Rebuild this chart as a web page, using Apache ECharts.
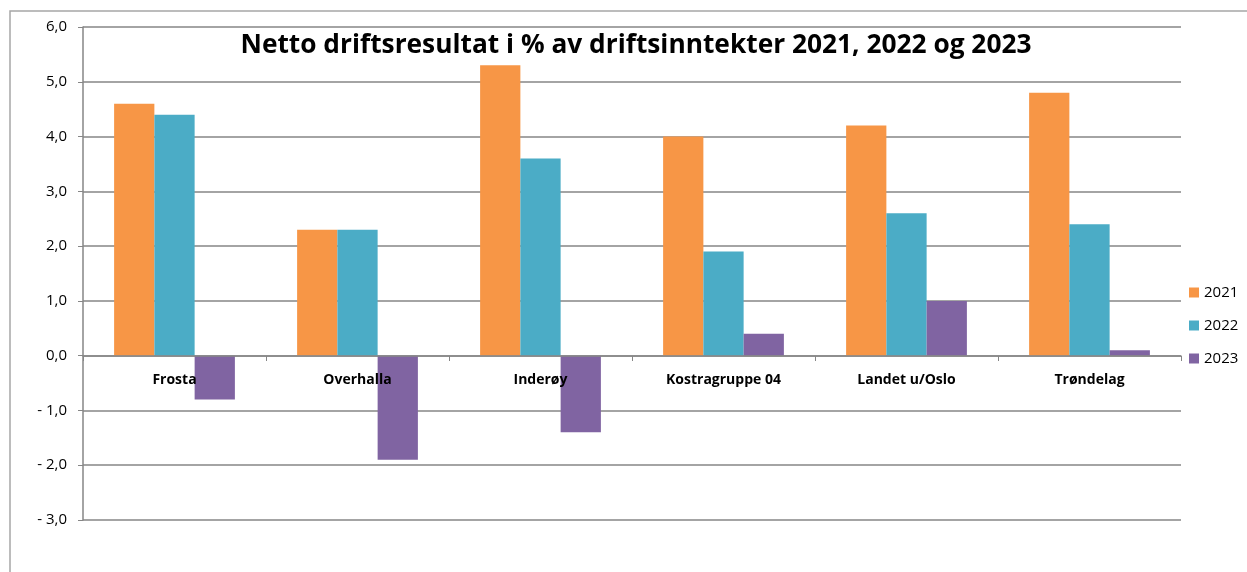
<!DOCTYPE html>
<html lang="no">
<head>
    <meta charset="utf-8">
    <title>Netto driftsresultat</title>
    <script src="https://cdn.jsdelivr.net/npm/echarts@6/dist/echarts.min.js"></script>
    <style>
        html, body { margin: 0; padding: 0; background: #fff; }
    </style>
</head>
<body>
<div id="chart" style="width: 1247px;height:572px;"></div>
<script type="application/javascript">
    // data
    var kommuner = ['Frosta', 'Overhalla', 'Inderøy', 'Kostragruppe 04', 'Landet u/Oslo', 'Trøndelag'];
    var aar2021 = [4.6, 2.3, 5.3, 4.0, 4.2, 4.8];
    var aar2022 = [4.4, 2.3, 3.6, 1.9, 2.6, 2.4];
    var aar2023 = [-0.8, -1.9, -1.4, 0.4, 1.0, 0.1];

    var chart = echarts.init(document.getElementById('chart'));

    // norsk tallformat: 1,0 og - 1,0
    function fmt(v) {
        var s = Math.abs(v).toFixed(1).replace('.', ',');
        return v < 0 ? '- ' + s : s;
    }

    var option = {
        backgroundColor: '#fff',
        animation: false,
        title: {
            text: 'Netto driftsresultat i % av driftsinntekter 2021, 2022 og 2023',
            left: 631,
            textAlign: 'center',
            top: 28,
            textStyle: {fontFamily: 'Open Sans', fontSize: 26.3, fontWeight: 'bold', color: '#000'}
        },
        graphic: [{
            type: 'polyline',
            shape: {points: [[10, 572], [10, 11], [1247, 11]]},
            style: {stroke: '#a6a6a6', lineWidth: 1.5, fill: null}
        }],
        legend: {
            orient: 'vertical',
            left: 1184,
            top: 280,
            itemWidth: 10,
            itemHeight: 10,
            itemGap: 18,
            icon: 'rect',
            textStyle: {fontFamily: 'Open Sans', fontSize: 15, color: '#000'},
            data: ['2021', '2022', '2023']
        },
        grid: {left: 83, right: 66, top: 27, bottom: 52},
        xAxis: {
            type: 'category',
            data: kommuner,
            position: 'bottom',
            offset: -164,
            axisLine: {onZero: false, lineStyle: {color: '#868686', width: 1.5}},
            axisTick: {show: true, length: 5, lineStyle: {color: '#868686'}},
            axisLabel: {
                margin: 17,
                fontFamily: 'Open Sans',
                fontSize: 14,
                fontWeight: 'bold',
                color: '#000'
            },
            z: 10
        },
        yAxis: {
            type: 'value',
            min: -3,
            max: 6,
            interval: 1,
            axisLine: {show: true, lineStyle: {color: '#868686', width: 1.5}},
            axisTick: {show: true, length: 5, lineStyle: {color: '#868686'}},
            splitLine: {lineStyle: {color: '#868686', width: 1.5}},
            axisLabel: {
                formatter: fmt,
                margin: 16,
                fontFamily: 'Open Sans',
                fontSize: 15,
                color: '#000'
            }
        },
        series: [
            {name: '2021', type: 'bar', data: aar2021, barGap: '0%', barCategoryGap: '34%',
                itemStyle: {color: '#F79646'}, z: 3},
            {name: '2022', type: 'bar', data: aar2022, barGap: '0%', barCategoryGap: '34%',
                itemStyle: {color: '#4BACC6'}, z: 3},
            {name: '2023', type: 'bar', data: aar2023, barGap: '0%', barCategoryGap: '34%',
                itemStyle: {color: '#8064A2'}, z: 3}
        ]
    };

    chart.setOption(option);
</script>
</body>
</html>
